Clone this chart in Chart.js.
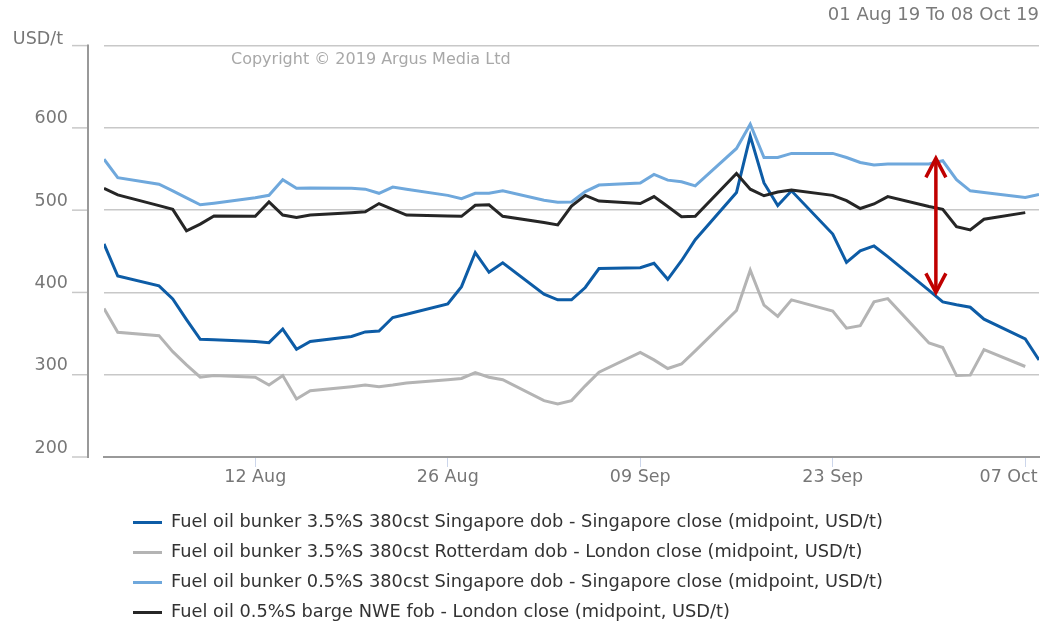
<!DOCTYPE html>
<html>
<head>
<meta charset="utf-8">
<title>Fuel oil bunker prices</title>
<script src="https://cdn.jsdelivr.net/npm/chart.js@4.4.1/dist/chart.umd.min.js"></script>
<style>
  body { margin: 0; background: #fff; }
  #wrap { position: relative; width: 1052px; height: 623px; }
  #legend { position: absolute; left: 133px; top: 506px; font: 17.8px 'DejaVu Sans', sans-serif; color: #333; }
  .row { height: 30px; line-height: 30px; white-space: nowrap; }
  .swatch { display: inline-block; width: 29px; height: 3px; vertical-align: middle; margin-right: 9px; }
</style>
</head>
<body>
<div id="wrap">
  <canvas id="chart"></canvas>
  <div id="legend"></div>
</div>
<script>
// trading days, 01 Aug 19 to 08 Oct 19
const dates = [
  '2019-08-01', '2019-08-02', '2019-08-05', '2019-08-06', '2019-08-07', '2019-08-08', '2019-08-09',
  '2019-08-12', '2019-08-13', '2019-08-14', '2019-08-15', '2019-08-16',
  '2019-08-19', '2019-08-20', '2019-08-21', '2019-08-22', '2019-08-23',
  '2019-08-26', '2019-08-27', '2019-08-28', '2019-08-29', '2019-08-30',
  '2019-09-02', '2019-09-03', '2019-09-04', '2019-09-05', '2019-09-06',
  '2019-09-09', '2019-09-10', '2019-09-11', '2019-09-12', '2019-09-13',
  '2019-09-16', '2019-09-17', '2019-09-18', '2019-09-19', '2019-09-20',
  '2019-09-23', '2019-09-24', '2019-09-25', '2019-09-26', '2019-09-27',
  '2019-09-30', '2019-10-01', '2019-10-02', '2019-10-03', '2019-10-04',
  '2019-10-07', '2019-10-08'
];

const sg380 = [459, 420, 408, 392, 367, 343, 342.5, 340.5, 339, 355.5, 331, 340.5, 346.5, 352, 353, 369.5, 373.5,
  386, 407, 448.5, 424.5, 436, 398, 391, 391, 406, 429, 430, 435.5, 416, 438.5, 464, 521.5, 590, 533, 505.5, 523.5,
  471, 436.5, 450.5, 456.5, 443.5, 402.5, 388.5, 385, 382, 367.5, 343.5, 318];
const rdm380 = [380.5, 351.5, 347.5, 328, 312, 297, 299, 297, 287.5, 299, 270.5, 280.5, 285.5, 287.5, 285.5, 287.5, 290,
  294, 295.5, 302.5, 297, 294, 268.5, 264.5, 268.5, 286.5, 303, 327, 318, 307.5, 313, 329, 378, 427, 384.5, 371, 391,
  377.5, 356.5, 359.5, 388.5, 392.5, 338.5, 333, 299, 299.5, 330.5, 310, null];
const sg05 = [562, 539.5, 531.5, 523.5, 515, 506.5, 508.5, 515, 518, 537, 526.5, 527, 526.5, 525.5, 520.5, 528, 525.5,
  518, 514, 520.5, 520.5, 523.5, 512, 509.5, 510, 522.5, 530.5, 533, 543.5, 536.5, 534.5, 529.5, 575, 604.5, 564, 564, 569,
  569, 564, 558, 555, 556, 556, 560, 537, 523.5, 521.5, 515.5, 519];
const nwe05 = [526.5, 518.5, 505.5, 501, 475, 483, 493, 492.5, 510, 494, 491, 494, 497, 498, 508, 501, 494,
  493, 492.5, 506, 506.5, 492.5, 485, 482, 505, 518, 511, 508, 516.5, 504.5, 492, 492.5, 544.5, 525.5, 517.5, 522, 524.5,
  518, 511.5, 502, 507.5, 516.5, 504.5, 501, 480, 476, 489, 497, null];

const seriesNames = [
  'Fuel oil bunker 3.5%S 380cst Singapore dob - Singapore close (midpoint, USD/t)',
  'Fuel oil bunker 3.5%S 380cst Rotterdam dob - London close (midpoint, USD/t)',
  'Fuel oil bunker 0.5%S 380cst Singapore dob - Singapore close (midpoint, USD/t)',
  'Fuel oil 0.5%S barge NWE fob - London close (midpoint, USD/t)'
];
const seriesColors = ['#0d5ca6', '#b4b4b4', '#6fa8dc', '#262626'];

const tickDates = ['2019-08-12', '2019-08-26', '2019-09-09', '2019-09-23', '2019-10-07'];
const tickLabels = ['12 Aug', '26 Aug', '09 Sep', '23 Sep', '07 Oct'];

const unitLabel = 'USD/t';
const rangeText = '01 Aug 19 To 08 Oct 19';
const copyright = 'Copyright \u00a9 2019 Argus Media Ltd';

// spread marker between the two Singapore grades (day offset, USD/t)
const arrowAt = 60.5;
const arrowLow = 400;
const arrowHigh = 563;

const dayOf = (s) => (Date.parse(s) - Date.parse(dates[0])) / 864e5;
const toPoints = (vals) => dates.map((d, i) => ({ x: dayOf(d), y: vals[i] }));

Chart.defaults.font.family = "'DejaVu Sans', sans-serif";

const decor = {
  id: 'decor',
  beforeDatasetsDraw(chart) {
    const { ctx, chartArea, scales: { y } } = chart;
    const axisX = chartArea.left - 16;
    ctx.save();
    ctx.strokeStyle = '#c8c8c8';
    ctx.lineWidth = 1.5;
    y.ticks.forEach((t) => {
      const py = y.getPixelForValue(t.value);
      ctx.beginPath();
      ctx.moveTo(axisX - 16, py);
      ctx.lineTo(axisX, py);
      ctx.stroke();
    });
    ctx.strokeStyle = '#999';
    ctx.lineWidth = 2;
    ctx.beginPath();
    ctx.moveTo(axisX, chartArea.top - 1);
    ctx.lineTo(axisX, chartArea.bottom + 1);
    ctx.stroke();
    ctx.textBaseline = 'middle';
    // unit sits where the top tick label would be
    ctx.fillStyle = '#777';
    ctx.font = "17.5px 'DejaVu Sans'";
    ctx.textAlign = 'right';
    ctx.fillText(unitLabel, chartArea.left - 41, chartArea.top - 6);
    ctx.fillStyle = '#a8a8a8';
    ctx.font = "16px 'DejaVu Sans'";
    ctx.textAlign = 'left';
    ctx.fillText(copyright, chartArea.left + 127, chartArea.top + 14);
    ctx.restore();
  },
  afterDatasetsDraw(chart) {
    const { ctx, scales: { x, y } } = chart;
    const px = x.getPixelForValue(arrowAt);
    const top = y.getPixelForValue(arrowHigh);
    const bot = y.getPixelForValue(arrowLow);
    ctx.save();
    ctx.strokeStyle = '#c00000';
    ctx.lineWidth = 3.5;
    ctx.beginPath();
    ctx.moveTo(px, top + 2);
    ctx.lineTo(px, bot - 2);
    ctx.stroke();
    ctx.beginPath();
    ctx.moveTo(px - 10, top + 19);
    ctx.lineTo(px, top);
    ctx.lineTo(px + 10, top + 19);
    ctx.stroke();
    ctx.beginPath();
    ctx.moveTo(px - 10, bot - 19);
    ctx.lineTo(px, bot);
    ctx.lineTo(px + 10, bot - 19);
    ctx.stroke();
    ctx.restore();
  }
};

const allSeries = [sg380, rdm380, sg05, nwe05];

const chart = new Chart(document.getElementById('chart'), {
  type: 'line',
  data: {
    datasets: allSeries.map((vals, i) => ({
      label: seriesNames[i],
      data: toPoints(vals),
      borderColor: seriesColors[i],
      backgroundColor: seriesColors[i],
      borderWidth: 3,
      pointRadius: 0,
      tension: 0,
      order: allSeries.length - i
    }))
  },
  options: {
    responsive: true,
    maintainAspectRatio: false,
    animation: false,
    events: [],
    layout: { padding: { left: 0, right: 13, top: 0, bottom: 136 } },
    plugins: {
      legend: { display: false },
      tooltip: { enabled: false },
      title: {
        display: true,
        text: rangeText,
        align: 'end',
        color: '#7a7a7a',
        font: { size: 18, weight: 'normal' },
        padding: { top: 5, bottom: 19 }
      }
    },
    scales: {
      x: {
        type: 'linear',
        min: 0,
        max: dayOf(dates[dates.length - 1]),
        afterBuildTicks: (axis) => { axis.ticks = tickDates.map((d) => ({ value: dayOf(d) })); },
        afterFit: (axis) => { axis.height = 30; axis.paddingLeft = 0; axis.paddingRight = 0; },
        ticks: {
          autoSkip: false,
          maxRotation: 0,
          minRotation: 0,
          padding: 0,
          color: '#777',
          font: { size: 17.5 },
          // last label is pulled left so it stays inside the frame
          callback: (value, i, ticks) => (i === ticks.length - 1 ? tickLabels[i] + '      ' : tickLabels[i])
        },
        grid: { drawOnChartArea: false, drawTicks: true, tickLength: 10, color: '#ccd6eb', lineWidth: 1 },
        border: { display: true, color: '#999', width: 2 }
      },
      y: {
        min: 200,
        max: 700,
        afterFit: (axis) => { axis.width = 104; axis.paddingTop = 0; axis.paddingBottom = 0; },
        ticks: {
          stepSize: 100,
          padding: 36,
          labelOffset: -9,
          color: '#777',
          font: { size: 17.5 },
          callback: (v) => (v === 700 ? '' : v)
        },
        grid: { color: '#c8c8c8', lineWidth: 1.5, drawTicks: false },
        border: { display: false }
      }
    }
  },
  plugins: [decor]
});

const legend = document.getElementById('legend');
chart.data.datasets.forEach((ds) => {
  const row = document.createElement('div');
  row.className = 'row';
  const sw = document.createElement('span');
  sw.className = 'swatch';
  sw.style.background = ds.borderColor;
  row.appendChild(sw);
  row.appendChild(document.createTextNode(ds.label));
  legend.appendChild(row);
});
</script>
</body>
</html>
